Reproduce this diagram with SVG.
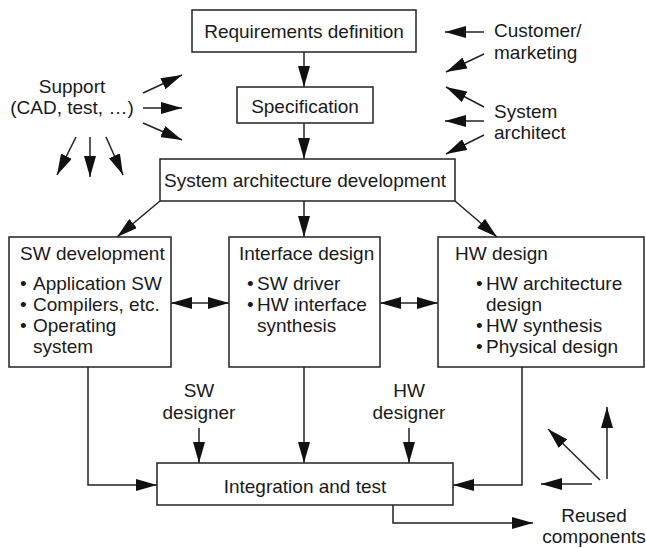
<svg xmlns="http://www.w3.org/2000/svg" width="646" height="548" viewBox="0 0 646 548">
<style>
text{font-family:"Liberation Sans",Arial,sans-serif;font-size:19px;fill:#1a1a1a}
.m{text-anchor:middle}
.box{fill:#fff;stroke:#222;stroke-width:1.5}
.c{fill:none;stroke:#222;stroke-width:1.5}
</style>
<defs>
<marker id="ah" markerUnits="userSpaceOnUse" markerWidth="21" markerHeight="12" refX="21" refY="6" orient="auto-start-reverse" viewBox="0 0 21 12">
<path d="M0,0 L21,6 L0,12 z" fill="#111"/>
</marker>
</defs>
<rect width="646" height="548" fill="#fff"/>
<g id="connectors">
<line class="c" x1="304" y1="52" x2="304" y2="87" marker-end="url(#ah)"/>
<line class="c" x1="304" y1="123" x2="304" y2="159" marker-end="url(#ah)"/>
<line class="c" x1="484" y1="32" x2="445" y2="32" marker-end="url(#ah)"/>
<line class="c" x1="484" y1="54" x2="446" y2="72" marker-end="url(#ah)"/>
<line class="c" x1="484" y1="107" x2="446" y2="87" marker-end="url(#ah)"/>
<line class="c" x1="484" y1="121" x2="445" y2="121" marker-end="url(#ah)"/>
<line class="c" x1="484" y1="135" x2="446" y2="154" marker-end="url(#ah)"/>
<line class="c" x1="143" y1="93" x2="182" y2="75" marker-end="url(#ah)"/>
<line class="c" x1="143" y1="108" x2="182" y2="108" marker-end="url(#ah)"/>
<line class="c" x1="143" y1="123" x2="182" y2="140" marker-end="url(#ah)"/>
<line class="c" x1="76" y1="137" x2="57" y2="175" marker-end="url(#ah)"/>
<line class="c" x1="90" y1="137" x2="90" y2="177" marker-end="url(#ah)"/>
<line class="c" x1="106" y1="137" x2="123" y2="175" marker-end="url(#ah)"/>
<line class="c" x1="160" y1="201" x2="117" y2="237" marker-end="url(#ah)"/>
<line class="c" x1="304" y1="201" x2="304" y2="237" marker-end="url(#ah)"/>
<line class="c" x1="455" y1="201" x2="497" y2="237" marker-end="url(#ah)"/>
<line class="c" x1="171" y1="303" x2="229" y2="303" marker-start="url(#ah)" marker-end="url(#ah)"/>
<line class="c" x1="380" y1="303" x2="438" y2="303" marker-start="url(#ah)" marker-end="url(#ah)"/>
<path class="c" d="M88,367 V485 H157" marker-end="url(#ah)"/>
<line class="c" x1="199" y1="428" x2="199" y2="463" marker-end="url(#ah)"/>
<line class="c" x1="304" y1="367" x2="304" y2="463" marker-end="url(#ah)"/>
<line class="c" x1="409" y1="428" x2="409" y2="463" marker-end="url(#ah)"/>
<path class="c" d="M522,367 V485 H453" marker-end="url(#ah)"/>
<path class="c" d="M393,505 V523 H533" marker-end="url(#ah)"/>
<line class="c" x1="592" y1="484" x2="541" y2="484" marker-end="url(#ah)"/>
<line class="c" x1="600" y1="480" x2="548" y2="429" marker-end="url(#ah)"/>
<line class="c" x1="607" y1="479" x2="607" y2="407" marker-end="url(#ah)"/>
</g>
<g id="req">
<rect class="box" x="192" y="10" width="224" height="42"/>
<text class="m" x="304" y="38">Requirements definition</text>
</g>
<g id="spec">
<rect class="box" x="237" y="87" width="136" height="36"/>
<text class="m" x="305" y="113">Specification</text>
</g>
<g id="arch">
<rect class="box" x="160" y="159" width="295" height="42"/>
<text class="m" x="305" y="187">System architecture development</text>
</g>
<g id="sw">
<rect class="box" x="9" y="237" width="162" height="130"/>
<text x="20" y="260">SW development</text>
<text x="20" y="290">•<tspan x="33">Application SW</tspan></text>
<text x="20" y="311">•<tspan x="33">Compilers, etc.</tspan></text>
<text x="20" y="332">•<tspan x="33">Operating</tspan></text>
<text x="33" y="353">system</text>
</g>
<g id="iface">
<rect class="box" x="229" y="237" width="151" height="130"/>
<text x="239" y="260">Interface design</text>
<text x="247" y="290">•<tspan x="257">SW driver</tspan></text>
<text x="247" y="311">•<tspan x="257">HW interface</tspan></text>
<text x="257" y="332">synthesis</text>
</g>
<g id="hw">
<rect class="box" x="438" y="237" width="206" height="130"/>
<text x="455" y="260">HW design</text>
<text x="476" y="290">•<tspan x="486">HW architecture</tspan></text>
<text x="486" y="311">design</text>
<text x="476" y="332">•<tspan x="486">HW synthesis</tspan></text>
<text x="476" y="353">•<tspan x="486">Physical design</tspan></text>
</g>
<g id="integ">
<rect class="box" x="157" y="463" width="296" height="42"/>
<text class="m" x="305" y="493">Integration and test</text>
</g>
<g id="support">
<text class="m" x="72" y="93">Support</text>
<text class="m" x="72" y="114">(CAD, test, …)</text>
</g>
<g id="customer">
<text x="494" y="37">Customer/</text>
<text x="494" y="59">marketing</text>
</g>
<g id="sysarch">
<text x="494" y="118">System</text>
<text x="494" y="139">architect</text>
</g>
<g id="swdesigner">
<text class="m" x="199" y="397">SW</text>
<text class="m" x="199" y="419">designer</text>
</g>
<g id="hwdesigner">
<text class="m" x="409" y="397">HW</text>
<text class="m" x="409" y="419">designer</text>
</g>
<g id="reused">
<text class="m" x="594" y="522">Reused</text>
<text class="m" x="594" y="543">components</text>
</g>
</svg>
